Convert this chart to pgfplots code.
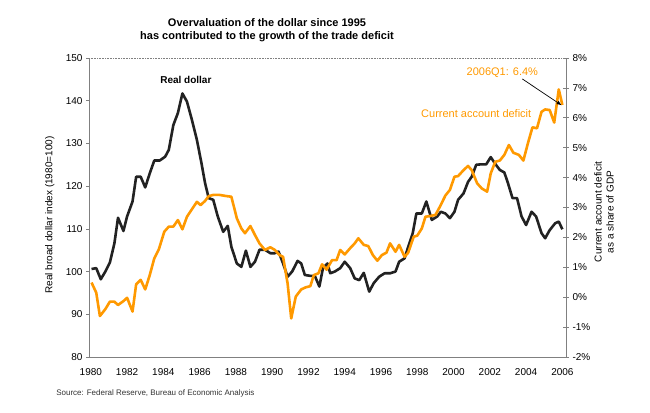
\documentclass[border=0pt]{standalone}
\usepackage{pgfplots}
\pgfplotsset{compat=1.18}
\usepackage{pgfplotstable}
\usepackage{fontspec}
\setmainfont{Liberation Sans}
\usetikzlibrary{arrows.meta}

\definecolor{cadorange}{HTML}{FF9900}
\definecolor{dollarblack}{HTML}{222222}
\definecolor{axisgray}{HTML}{808080}

% real broad dollar index, 1980=100 (left axis)
\pgfplotstableread{
year val
1980.04 100.6
1980.3 100.8
1980.55 98.2
1980.8 100.0
1981.05 102.1
1981.3 106.6
1981.5 112.6
1981.8 109.5
1982.0 112.9
1982.3 116.4
1982.5 122.2
1982.75 122.2
1983.0 119.7
1983.25 123.0
1983.5 126.0
1983.8 126.0
1984.1 126.9
1984.3 128.5
1984.55 134.3
1984.8 137.1
1985.05 141.7
1985.3 139.8
1985.55 135.9
1985.85 130.8
1986.1 125.4
1986.3 120.7
1986.5 117.2
1986.75 116.8
1987.0 112.9
1987.3 109.3
1987.55 110.7
1987.75 105.8
1988.05 101.9
1988.3 101.1
1988.55 104.9
1988.8 101.1
1989.05 102.3
1989.3 105.1
1989.6 105.1
1989.9 104.3
1990.15 104.3
1990.35 104.7
1990.6 101.9
1990.85 98.8
1991.1 100.0
1991.4 102.5
1991.6 101.9
1991.8 99.2
1992.1 99.0
1992.35 99.0
1992.6 96.5
1992.8 100.8
1993.05 101.9
1993.2 99.6
1993.45 100.0
1993.75 100.8
1994.0 102.3
1994.3 100.8
1994.55 98.4
1994.8 98.0
1995.05 99.7
1995.35 95.3
1995.6 97.3
1995.9 98.8
1996.2 99.6
1996.5 99.6
1996.8 100.0
1997.0 102.3
1997.3 103.1
1997.5 105.8
1997.75 109.0
1997.95 113.6
1998.25 113.6
1998.5 116.4
1998.8 112.1
1999.1 112.9
1999.3 114.0
1999.55 113.6
1999.8 112.5
2000.05 114.0
2000.25 116.8
2000.55 118.3
2000.8 121.0
2001.0 122.2
2001.25 125.0
2001.5 125.1
2001.8 125.1
2002.05 126.8
2002.3 125.2
2002.55 123.8
2002.8 123.2
2003.0 120.7
2003.25 117.2
2003.5 117.2
2003.75 112.9
2004.0 110.9
2004.3 114.0
2004.55 112.9
2004.85 109.0
2005.05 107.8
2005.3 109.7
2005.6 111.3
2005.8 111.7
2006.0 109.9
}\dollartable

% current account deficit, % of GDP (right axis)
\pgfplotstableread{
year val
1980.04 0.49
1980.3 0.15
1980.5 -0.63
1980.8 -0.40
1981.05 -0.15
1981.3 -0.15
1981.5 -0.26
1981.8 -0.13
1982.0 -0.02
1982.3 -0.48
1982.5 0.43
1982.75 0.58
1983.0 0.26
1983.25 0.74
1983.5 1.30
1983.75 1.60
1984.05 2.19
1984.3 2.36
1984.55 2.36
1984.8 2.58
1985.05 2.27
1985.3 2.69
1985.55 2.92
1985.85 3.19
1986.05 3.08
1986.3 3.22
1986.5 3.38
1986.75 3.42
1987.1 3.42
1987.5 3.38
1987.75 3.36
1988.05 2.64
1988.3 2.30
1988.5 2.14
1988.8 2.38
1989.05 2.08
1989.3 1.80
1989.6 1.58
1989.9 1.67
1990.15 1.58
1990.4 1.41
1990.6 1.35
1990.85 0.46
1991.05 -0.71
1991.3 0.02
1991.6 0.26
1991.85 0.33
1992.1 0.37
1992.3 0.74
1992.55 0.80
1992.75 1.10
1993.0 0.92
1993.3 1.24
1993.55 1.24
1993.75 1.58
1994.0 1.43
1994.3 1.64
1994.55 1.80
1994.75 1.97
1995.05 1.75
1995.3 1.71
1995.55 1.41
1995.8 1.22
1996.05 1.41
1996.3 1.49
1996.5 1.80
1996.8 1.52
1997.0 1.75
1997.3 1.35
1997.5 1.49
1997.8 2.02
1998.0 2.06
1998.25 2.30
1998.45 2.69
1998.75 2.72
1999.0 2.75
1999.25 3.03
1999.55 3.40
1999.8 3.59
2000.05 4.03
2000.25 4.05
2000.55 4.25
2000.8 4.39
2001.0 4.25
2001.3 3.81
2001.55 3.64
2001.85 3.53
2002.05 4.14
2002.3 4.53
2002.55 4.57
2002.8 4.76
2003.05 5.09
2003.3 4.83
2003.6 4.76
2003.85 4.57
2004.1 5.15
2004.35 5.68
2004.6 5.65
2004.85 6.20
2005.05 6.28
2005.3 6.26
2005.55 5.84
2005.8 6.95
2006.0 6.43
}\cadtable

\pgfplotsset{
  twinaxis/.style={
    at={(89pt,55pt)}, anchor=south west,
    width=477pt, height=299pt, scale only axis,
    xmin=1979.9, xmax=2006.2,
    axis line style={axisgray, line width=0.8pt, -},
    tick style={axisgray, line width=0.6pt},
    tick label style={font=\fontsize{10}{12}\selectfont},
    label style={font=\fontsize{10}{12}\selectfont},
    /pgf/number format/assume math mode=true,
  }
}

\begin{document}
\begin{tikzpicture}
\useasboundingbox (0pt,0pt) rectangle (650pt,412pt);

\node[font=\fontsize{11}{13}\selectfont\bfseries] at (267pt,389pt) {Overvaluation of the dollar since 1995};
\node[font=\fontsize{11}{13}\selectfont\bfseries] at (267pt,375pt) {has contributed to the growth of the trade deficit};

\begin{axis}[twinaxis,
  ymin=80, ymax=150,
  axis x line*=bottom, axis y line*=left,
  xtick={1980,1982,...,2006},
  xticklabels={1980,1982,1984,1986,1988,1990,1992,1994,1996,1998,2000,2002,2004,2006},
  x tick style={draw=none},
  xticklabel style={yshift=-8pt},
  ytick={80,90,...,150},
  yticklabels={80,90,100,110,120,130,140,150},
  ytick align=outside, major tick length=3pt,
  ylabel={Real broad dollar index (1980=100)},
  ylabel style={at={(axis description cs:-0.082,0.475)}, anchor=center},
]
\draw[axisgray, densely dotted, line width=0.6pt] (rel axis cs:0,1) -- (rel axis cs:1,1);
\addplot[dollarblack, line width=2.6pt, line join=round] table[x=year, y=val] {\dollartable};
\node[font=\fontsize{10}{12}\selectfont\bfseries] at (axis cs:1985.24,144.85) {Real dollar};
\end{axis}

\begin{axis}[twinaxis,
  ymin=-2, ymax=8,
  axis x line=none, axis y line*=right,
  ytick={-2,-1,...,8},
  yticklabels={-2\%,-1\%,0\%,1\%,2\%,3\%,4\%,5\%,6\%,7\%,8\%},
  ytick align=center, major tick length=6pt,
  ylabel={Current account deficit\\as a share of GDP},
  ylabel style={align=center, at={(axis description cs:1.080,0.485)}, anchor=center},
]
\addplot[cadorange, line width=2.6pt, line join=round] table[x=year, y=val] {\cadtable};
\node[font=\fontsize{11}{13}\selectfont, text=cadorange] at (axis cs:2001.25,6.13) {Current account deficit};
\node[font=\fontsize{11}{13}\selectfont, text=cadorange] at (axis cs:2002.69,7.52) {2006Q1:\hspace{4pt}6.4\%};
\draw[black, line width=0.7pt, -{Latex[length=5pt,width=4pt]}] (axis cs:2003.79,7.30) -- (axis cs:2005.96,6.42);
\end{axis}

\node[font=\fontsize{8}{10}\selectfont, text=black!80, anchor=east] at (258pt,19pt) {Source: Federal Reserve, Bureau of Economic Analysis};
\end{tikzpicture}
\end{document}
